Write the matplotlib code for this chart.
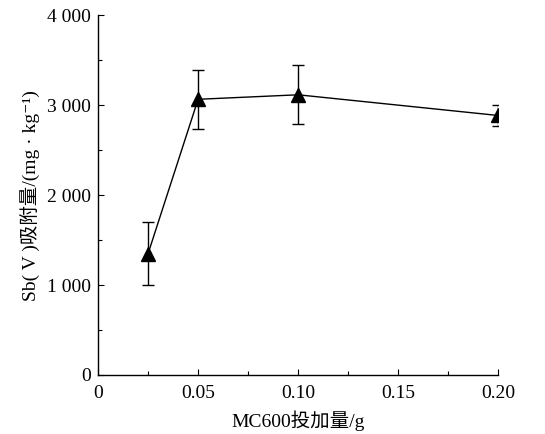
import matplotlib.pyplot as plt
from matplotlib.ticker import MultipleLocator, FuncFormatter

# 数据
dosage = [0.025, 0.05, 0.10, 0.20]
adsorption = [1350, 3065, 3115, 2885]
error = [350, 330, 330, 115]

plt.rcParams['font.family'] = ['Liberation Serif', 'Noto Sans CJK SC', 'DejaVu Serif']
plt.rcParams['axes.unicode_minus'] = False

fig = plt.figure(figsize=(5.45, 4.34), dpi=100)
ax = fig.add_axes([0.18, 0.136, 0.734, 0.829])

ax.errorbar(dosage, adsorption, yerr=error, color="black", linewidth=1.0,
            marker="^", markersize=10, capsize=4, elinewidth=1.0, capthick=1.0)

ax.set_xlim(0, 0.20)
ax.set_ylim(0, 4000)
ax.xaxis.set_major_locator(MultipleLocator(0.05))
ax.xaxis.set_minor_locator(MultipleLocator(0.025))
ax.yaxis.set_major_locator(MultipleLocator(1000))
ax.yaxis.set_minor_locator(MultipleLocator(500))


def fmt_x(v, pos):
    return "0" if abs(v) < 1e-9 else f"{v:.2f}"


def fmt_y(v, pos):
    return f"{int(v):,}".replace(",", " ")


ax.xaxis.set_major_formatter(FuncFormatter(fmt_x))
ax.yaxis.set_major_formatter(FuncFormatter(fmt_y))

for side in ["top", "right"]:
    ax.spines[side].set_visible(False)
for side in ["left", "bottom"]:
    ax.spines[side].set_linewidth(1.0)

ax.tick_params(which="both", direction="in", labelsize=14, width=0.8)
ax.tick_params(axis="x", which="major", length=4, pad=7)
ax.tick_params(axis="y", which="major", length=4, pad=5)
ax.tick_params(which="minor", length=3)

ax.set_xlabel("MC600投加量/g", fontsize=14, labelpad=6)
ax.set_ylabel("Sb( V )吸附量/(mg · kg⁻¹)", fontsize=14, labelpad=5)

fig.savefig("out.png", dpi=100)
